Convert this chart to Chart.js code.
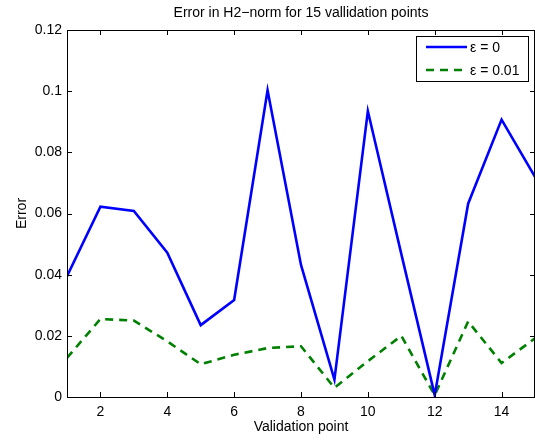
<!DOCTYPE html>
<html lang="en">
<head>
    <meta charset="UTF-8">
    <title>Error in H2-norm</title>
    <script src="https://cdn.jsdelivr.net/npm/chart.js"></script>
    <style>
        html, body { margin: 0; padding: 0; background: #fff; }
    </style>
</head>
<body>
    <canvas id="errChart" width="535" height="441"></canvas>
    <script>
        // validation points and errors
        const points = [1, 2, 3, 4, 5, 6, 7, 8, 9, 10, 11, 12, 13, 14, 15];
        const errEps0 = [0.0395, 0.0622, 0.0608, 0.0472, 0.0235, 0.0317, 0.1003, 0.0432, 0.0057, 0.0935, 0.0468, 0.0006, 0.0632, 0.0907, 0.0720];
        const errEps001 = [0.0128, 0.0255, 0.0250, 0.0182, 0.0107, 0.0138, 0.0160, 0.0166, 0.0030, 0.0117, 0.0200, 0.0006, 0.0247, 0.0111, 0.0192];
        const seriesLabels = ['ε = 0', 'ε = 0.01'];
        const xTicks = [2, 4, 6, 8, 10, 12, 14];
        const yTicks = [0, 0.02, 0.04, 0.06, 0.08, 0.1, 0.12];

        const FONT = 'Liberation Sans, Arial, Helvetica, sans-serif';

        // box around the plot with inward ticks, plus legend inside the axes
        const matlabAxes = {
            id: 'matlabAxes',
            afterDraw(chart) {
                const ctx = chart.ctx;
                const a = chart.chartArea;
                const xs = chart.scales.x, ys = chart.scales.y;
                const tl = 5;
                ctx.save();
                ctx.strokeStyle = '#000';
                ctx.lineWidth = 1;
                ctx.strokeRect(Math.round(a.left) + 0.5, Math.round(a.top) + 0.5,
                    Math.round(a.right - a.left) - 1, Math.round(a.bottom - a.top));
                ctx.beginPath();
                xTicks.forEach(v => {
                    const px = Math.round(xs.getPixelForValue(v)) + 0.5;
                    ctx.moveTo(px, a.bottom); ctx.lineTo(px, a.bottom - tl);
                    ctx.moveTo(px, a.top); ctx.lineTo(px, a.top + tl);
                });
                yTicks.forEach(v => {
                    const py = Math.round(ys.getPixelForValue(v)) + 0.5;
                    ctx.moveTo(a.left, py); ctx.lineTo(a.left + tl, py);
                    ctx.moveTo(a.right, py); ctx.lineTo(a.right - tl, py);
                });
                ctx.stroke();

                // legend
                const bx = 416, by = 36, bw = 112, bh = 45;
                ctx.fillStyle = '#fff';
                ctx.fillRect(bx, by, bw, bh);
                ctx.strokeRect(bx + 0.5, by + 0.5, bw, bh);
                chart.data.datasets.forEach((ds, i) => {
                    const ry = by + 11 + i * 23;
                    ctx.beginPath();
                    ctx.strokeStyle = ds.borderColor;
                    ctx.lineWidth = ds.borderWidth;
                    ctx.setLineDash(ds.borderDash || []);
                    ctx.moveTo(bx + 10, ry);
                    ctx.lineTo(bx + 51, ry);
                    ctx.stroke();
                    ctx.setLineDash([]);
                    ctx.fillStyle = '#000';
                    ctx.font = '14px ' + FONT;
                    ctx.textBaseline = 'middle';
                    ctx.fillText(ds.label, bx + 54, ry + 1);
                });
                ctx.restore();
            }
        };

        const ctx = document.getElementById('errChart').getContext('2d');
        new Chart(ctx, {
            type: 'line',
            data: {
                datasets: [
                    {
                        label: seriesLabels[0],
                        data: points.map((p, i) => ({ x: p, y: errEps0[i] })),
                        borderColor: '#0000ff',
                        borderWidth: 2.6,
                        pointRadius: 0,
                        tension: 0
                    },
                    {
                        label: seriesLabels[1],
                        data: points.map((p, i) => ({ x: p, y: errEps001[i] })),
                        borderColor: '#008000',
                        borderWidth: 2.6,
                        borderDash: [8, 6],
                        pointRadius: 0,
                        tension: 0
                    }
                ]
            },
            options: {
                responsive: false,
                animation: false,
                devicePixelRatio: 1,
                layout: { padding: 0 },
                plugins: {
                    legend: { display: false },
                    tooltip: { enabled: false },
                    title: {
                        display: true,
                        fullSize: false,
                        text: 'Error in H2\u2212norm for 15 vallidation points',
                        color: '#000',
                        font: { family: FONT, size: 14, weight: 'normal' },
                        padding: { top: 5, bottom: 8.2 }
                    }
                },
                scales: {
                    x: {
                        type: 'linear',
                        min: 1,
                        max: 15,
                        afterBuildTicks: s => { s.ticks = xTicks.map(v => ({ value: v })); },
                        afterFit: s => { s.height = 44; },
                        grid: { display: false, drawTicks: false },
                        border: { display: false },
                        ticks: {
                            color: '#000',
                            font: { family: FONT, size: 14 },
                            padding: 7,
                            maxRotation: 0,
                            autoSkip: false
                        },
                        title: {
                            display: true,
                            text: 'Validation point',
                            color: '#000',
                            font: { family: FONT, size: 14 },
                            padding: { top: 0, bottom: 5 }
                        }
                    },
                    y: {
                        min: 0,
                        max: 0.12,
                        afterBuildTicks: s => { s.ticks = yTicks.map(v => ({ value: v })); },
                        afterFit: s => { s.width = 67; },
                        grid: { display: false, drawTicks: false },
                        border: { display: false },
                        ticks: {
                            color: '#000',
                            font: { family: FONT, size: 14 },
                            padding: 5,
                            callback: v => String(Number(v.toFixed(2)))
                        },
                        title: {
                            display: true,
                            text: 'Error',
                            color: '#000',
                            font: { family: FONT, size: 14 },
                            padding: { top: 14, bottom: 0 }
                        }
                    }
                }
            },
            plugins: [matlabAxes]
        });
    </script>
</body>
</html>
